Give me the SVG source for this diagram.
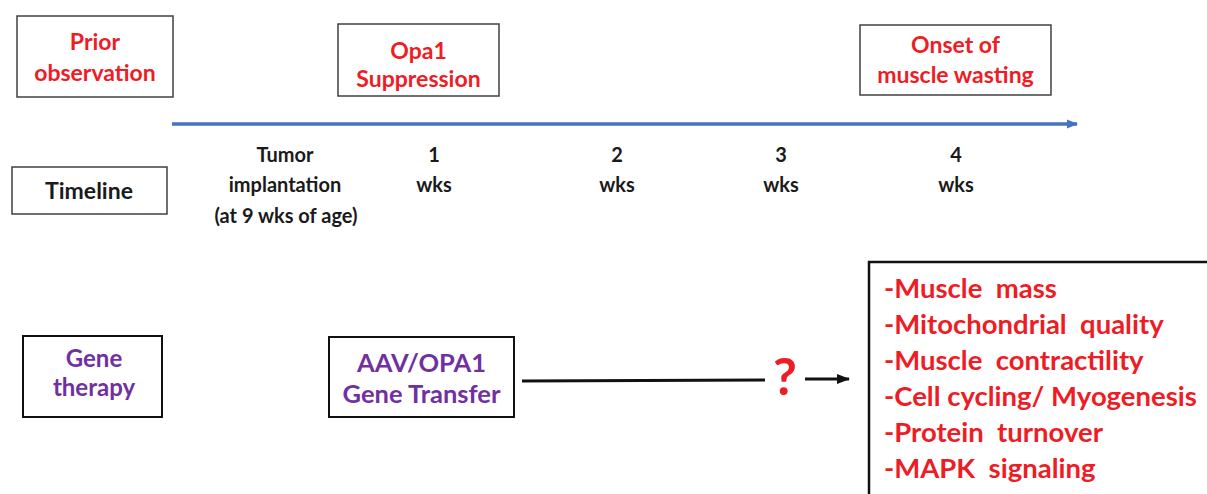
<svg xmlns="http://www.w3.org/2000/svg" width="1207" height="494" viewBox="0 0 1207 494">
  <style>
    text { font-family: Lato, "Open Sans", "Liberation Sans", sans-serif; font-weight: bold; }
    .box { fill: #ffffff; stroke: #404040; stroke-width: 1.5; }
    .box2 { fill: #ffffff; stroke: #111111; stroke-width: 2; }
    .red { fill: #ee1c25; font-size: 23px; text-anchor: middle; }
    .purple { fill: #7030a0; text-anchor: middle; }
    .blk { fill: #1a1a1a; font-size: 23px; text-anchor: middle; }
    .tl { fill: #1a1a1a; font-size: 20px; text-anchor: middle; }
    .list { fill: #ee1c25; font-size: 27.5px; white-space: pre; }
  </style>
  <defs>
    <marker id="blueHead" markerWidth="12" markerHeight="12" refX="10" refY="6" orient="auto" markerUnits="userSpaceOnUse">
      <path d="M0,1.5 L11,6 L0,10.5 Z" fill="#4472c4"/>
    </marker>
    <marker id="blackHead" markerWidth="14" markerHeight="12" refX="12" refY="6" orient="auto" markerUnits="userSpaceOnUse">
      <path d="M0,1 L13,6 L0,11 Z" fill="#111111"/>
    </marker>
  </defs>

  <g id="prior-observation">
    <rect class="box" x="17" y="16" width="156" height="81"/>
    <text class="red" x="95" y="50">Prior</text>
    <text class="red" x="95" y="81">observation</text>
  </g>

  <g id="opa1-suppression">
    <rect class="box" x="338" y="24" width="161" height="72"/>
    <text class="red" x="418.5" y="59">Opa1</text>
    <text class="red" x="418.5" y="87">Suppression</text>
  </g>

  <g id="onset-muscle-wasting">
    <rect class="box" x="860" y="25" width="191" height="70"/>
    <text class="red" x="955.5" y="53">Onset of</text>
    <text class="red" x="955.5" y="83">muscle wasting</text>
  </g>

  <g id="timeline">
    <rect class="box" x="12" y="167" width="155" height="47"/>
    <text class="blk" x="89" y="199">Timeline</text>
  </g>

  <g id="timeline-labels">
    <text class="tl" x="285" y="162">Tumor</text>
    <text class="tl" x="285" y="192">implantation</text>
    <text class="tl" x="286" y="223">(at 9 wks of age)</text>
    <text class="tl" x="434" y="162">1</text>
    <text class="tl" x="434" y="192">wks</text>
    <text class="tl" x="617" y="162">2</text>
    <text class="tl" x="617" y="192">wks</text>
    <text class="tl" x="781" y="162">3</text>
    <text class="tl" x="781" y="192">wks</text>
    <text class="tl" x="956" y="162">4</text>
    <text class="tl" x="956" y="192">wks</text>
  </g>

  <g id="gene-therapy">
    <rect class="box2" x="23" y="336" width="139" height="81"/>
    <text class="purple" x="94" y="367" font-size="24">Gene</text>
    <text class="purple" x="94" y="396" font-size="24">therapy</text>
  </g>

  <g id="aav-opa1">
    <rect class="box2" x="329" y="337" width="185" height="80"/>
    <text class="purple" x="421.5" y="372" font-size="25.5">AAV/OPA1</text>
    <text class="purple" x="421.5" y="403" font-size="25.5">Gene Transfer</text>
  </g>

  <g id="outcomes">
    <rect fill="#ffffff" stroke="#111111" stroke-width="2.5" x="869" y="262" width="400" height="300"/>
    <text class="list" x="884" y="298">-Muscle  mass</text>
    <text class="list" x="884" y="334">-Mitochondrial  quality</text>
    <text class="list" x="884" y="370">-Muscle  contractility</text>
    <text class="list" x="884" y="406">-Cell cycling/ Myogenesis</text>
    <text class="list" x="884" y="442">-Protein  turnover</text>
    <text class="list" x="884" y="478">-MAPK  signaling</text>
  </g>

  <g id="connectors">
    <line x1="172" y1="124" x2="1077" y2="124" stroke="#4472c4" stroke-width="3.5" marker-end="url(#blueHead)"/>
    <line x1="522" y1="381" x2="765" y2="380" stroke="#111111" stroke-width="3"/>
    <text x="785" y="395" fill="#ee1c25" font-size="52" font-weight="900" text-anchor="middle">?</text>
    <line x1="805" y1="379" x2="849" y2="379" stroke="#111111" stroke-width="3" marker-end="url(#blackHead)"/>
  </g>
</svg>
